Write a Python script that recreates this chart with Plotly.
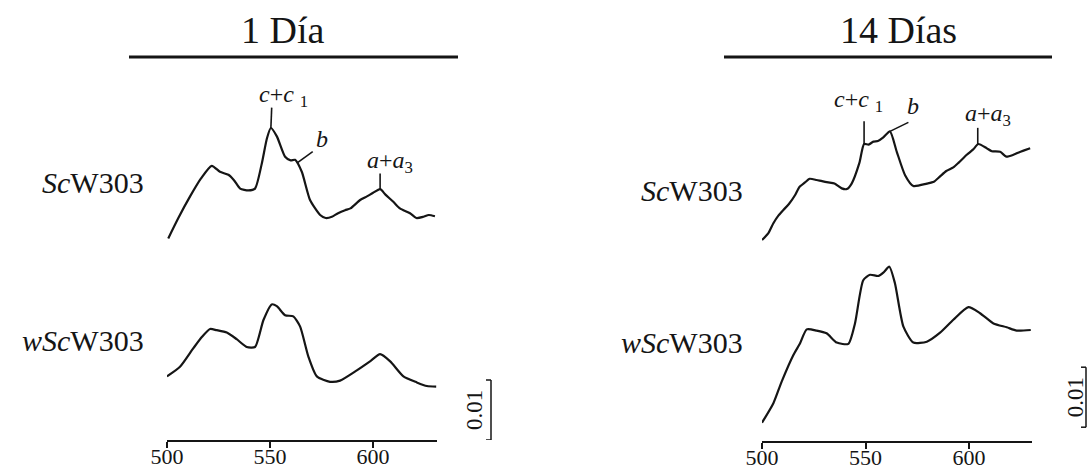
import numpy as np
import plotly.graph_objects as go

# ---------------- data (absorbance in units of 0.001, wavelength in nm) ----------------
wl_sc_1d = [500.6, 505.5, 511.2, 516.5, 521.7, 525.7, 529.8, 532.5, 535.5, 539.5, 542.7, 546.0,
            548.5, 550.4, 553.3, 557.3, 560.0, 562.1, 565.4, 569.4, 574.3, 577.0, 580.0, 583.0,
            586.4, 589.0, 593.7, 597.0, 600.0, 603.4, 606.0, 609.8, 613.0, 617.9, 621.0, 624.4,
            627.0, 630.0]
ab_sc_1d = [33.6, 37.0, 40.6, 43.6, 45.7, 44.7, 44.2, 43.3, 41.9, 41.6, 41.9, 46.1,
            50.3, 52.0, 50.6, 47.2, 46.6, 46.7, 44.7, 40.0, 37.5, 37.0, 37.2, 37.8,
            38.3, 38.6, 40.0, 40.6, 41.2, 41.8, 40.9, 39.7, 38.6, 37.8, 37.0, 37.2,
            37.5, 37.3]

wl_wsc_1d = [500.0, 506.3, 512.8, 517.0, 520.9, 524.1, 529.0, 533.8, 538.7, 542.7, 546.8, 550.8,
             553.3, 557.3, 561.3, 564.6, 568.6, 572.7, 579.1, 584.0, 592.1, 598.5, 603.4, 608.3,
             614.7, 621.2, 626.1, 630.6]
ab_wsc_1d = [10.6, 12.2, 15.3, 17.2, 18.5, 18.3, 17.9, 16.8, 15.5, 15.5, 20.0, 22.6,
             22.3, 20.8, 20.6, 18.9, 13.9, 10.6, 9.7, 9.9, 11.6, 13.1, 14.3, 13.1,
             10.6, 9.6, 9.0, 8.9]

wl_sc_14d = [500.0, 503.0, 505.5, 508.0, 510.3, 513.0, 516.0, 518.0, 520.8, 523.0, 526.4, 529.0,
             532.0, 535.0, 538.5, 541.0, 543.3, 547.0, 549.3, 551.5, 553.8, 556.0, 558.6, 561.8,
             565.1, 569.1, 573.1, 579.6, 583.0, 586.0, 589.0, 592.4, 595.0, 598.9, 602.0, 604.5,
             608.5, 611.0, 615.0, 618.0, 621.4, 624.0, 626.3, 629.5]
ab_sc_14d = [33.5, 34.6, 36.3, 37.6, 38.5, 39.5, 41.0, 42.3, 43.1, 43.7, 43.5, 43.3,
             43.1, 42.9, 42.1, 42.0, 42.9, 46.3, 49.5, 49.4, 49.9, 50.0, 50.6, 51.6,
             48.2, 44.3, 42.5, 42.9, 43.2, 44.1, 45.0, 45.6, 46.4, 47.7, 48.6, 49.5,
             48.8, 48.3, 48.2, 47.4, 47.7, 48.1, 48.4, 48.8]

wl_wsc_14d = [500.0, 505.5, 509.5, 515.1, 518.4, 521.6, 526.4, 531.2, 536.1, 541.7, 544.9, 548.9,
              552.2, 556.2, 558.6, 561.5, 564.2, 568.3, 573.1, 579.6, 586.0, 592.4, 599.7, 605.3,
              611.8, 618.2, 623.0, 629.8]
ab_wsc_14d = [3.05, 6.3, 9.9, 14.3, 16.3, 18.6, 18.4, 17.95, 16.4, 16.2, 19.6, 26.8,
              27.7, 27.5, 28.05, 29.05, 26.3, 19.05, 16.4, 16.55, 18.05, 20.2, 22.3, 21.3,
              19.6, 18.95, 18.4, 18.5]

panel_titles = ["1 Día", "14 Días"]
row_labels = ["<i>Sc</i>W303", "<i>wSc</i>W303"]
tick_vals = [500, 550, 600]
tick_text = ["500", "550", "600"]
scale_label = "0.01"
scale_size = 10  # 0.01 absorbance = 10 units of 0.001
band_labels = ["<i>c</i>+<i>c</i> <sub>1</sub>", "<i>b</i>", "<i>a</i>+<i>a</i><sub>3</sub>"]
band_wl_1d = [550.4, 563.0, 603.4]
band_wl_14d = [549.3, 561.8, 604.2]

# ---------------- layout helpers ----------------
W, H = 1088, 470
FONT = "Liberation Serif"
PX = lambda p: p / W
PY = lambda p: 1 - p / H
INK = "#151515"

fig = go.Figure()
fig.add_trace(go.Scatter(x=wl_sc_1d, y=ab_sc_1d, xaxis="x", yaxis="y"))
fig.add_trace(go.Scatter(x=wl_wsc_1d, y=ab_wsc_1d, xaxis="x", yaxis="y"))
fig.add_trace(go.Scatter(x=wl_sc_14d, y=ab_sc_14d, xaxis="x2", yaxis="y2"))
fig.add_trace(go.Scatter(x=wl_wsc_14d, y=ab_wsc_14d, xaxis="x2", yaxis="y2"))
fig.update_traces(mode="lines", line=dict(color=INK, width=2.2, shape="spline", smoothing=0.6),
                  showlegend=False, hoverinfo="skip")

xcommon = dict(showgrid=False, zeroline=False, showline=True, linecolor=INK, linewidth=2,
               ticks="outside", ticklen=6, tickwidth=2, tickcolor=INK,
               tickvals=tick_vals, ticktext=tick_text, automargin=False,
               ticklabelstandoff=-10,
               tickfont=dict(family=FONT, size=22, color=INK))
ycommon = dict(visible=False, showgrid=False, zeroline=False, fixedrange=True)

fig.update_layout(
    width=W, height=H, margin=dict(l=0, r=0, t=0, b=0),
    paper_bgcolor="white", plot_bgcolor="white",
    xaxis=dict(domain=[PX(167), PX(437)], range=[500, 631], anchor="y", **xcommon),
    yaxis=dict(domain=[30 / H, 1], range=[0, 440 / 6], anchor="x", **ycommon),
    xaxis2=dict(domain=[PX(762), PX(1032)], range=[500, 630.4], anchor="y2", **xcommon),
    yaxis2=dict(domain=[29 / H, 1], range=[0, 441 / 6], anchor="x2", **ycommon),
)

shapes = []
ann = []

# panel titles and rules
for title, (x0, x1), tx in zip(panel_titles, [(129, 458), (724, 1052)], [282.5, 898]):
    shapes.append(dict(type="line", xref="paper", yref="paper", x0=PX(x0), x1=PX(x1),
                       y0=PY(57), y1=PY(57), line=dict(color=INK, width=3)))
    ann.append(dict(text=title, xref="paper", yref="paper", x=PX(tx), y=PY(30),
                    xanchor="center", yanchor="middle", showarrow=False,
                    font=dict(family=FONT, size=38, color=INK)))

# row labels
for (lab, xr, yc) in [(row_labels[0], 146, 182), (row_labels[1], 146, 340),
                      (row_labels[0], 745, 190), (row_labels[1], 745, 342)]:
    ann.append(dict(text=lab, xref="paper", yref="paper", x=PX(xr), y=PY(yc),
                    xanchor="right", yanchor="middle", showarrow=False,
                    font=dict(family=FONT, size=30, color=INK)))

# band markers (tick lines + labels), anchored on the spectra
def band_marks(wls, abs_, band_wl, xr, yr, geo):
    for lab, bw, g in zip(band_labels, band_wl, geo):
        y0 = float(np.interp(bw, wls, abs_))
        dx, dy, tx, ty = g
        shapes.append(dict(type="line", xref=xr, yref=yr, x0=bw, y0=y0, x1=bw + dx, y1=y0 + dy,
                           line=dict(color=INK, width=1.6)))
        ann.append(dict(text=lab, xref=xr, yref=yr, x=bw + tx, y=y0 + ty,
                        xanchor="center", yanchor="middle", showarrow=False,
                        font=dict(family=FONT, size=24, color=INK)))

band_marks(wl_sc_1d, ab_sc_1d, band_wl_1d, "x", "y",
           [(0.4, 3.4, 6.0, 5.4), (7.7, 1.9, 12.1, 4.0), (0, 2.6, 4.8, 4.5)])
band_marks(wl_sc_14d, ab_sc_14d, band_wl_14d, "x2", "y2",
           [(0, 3.8, -2.9, 7.2), (8.9, 1.5, 11.1, 4.2), (0, 2.8, 5.0, 5.0)])

# scale bars (0.01 absorbance)
for yr, xb, ybot, xlab in [("y", 491, 0, 474), ("y2", 1086, 2.3, 1075)]:
    shapes.append(dict(type="line", xref="paper", yref=yr, x0=PX(xb), x1=PX(xb),
                       y0=ybot, y1=ybot + scale_size, line=dict(color=INK, width=1.5)))
    for yy in (ybot, ybot + scale_size):
        shapes.append(dict(type="line", xref="paper", yref=yr, x0=PX(xb - 5), x1=PX(xb),
                           y0=yy, y1=yy, line=dict(color=INK, width=1.5)))
    ann.append(dict(text=scale_label, xref="paper", yref=yr, x=PX(xlab), y=ybot + scale_size / 2,
                    xanchor="center", yanchor="middle", textangle=-90, showarrow=False,
                    font=dict(family=FONT, size=23, color=INK)))

fig.update_layout(shapes=shapes, annotations=ann)
fig.write_html("out.html", config={"displayModeBar": False},
               post_script="document.body.style.margin='0px';document.body.style.overflow='hidden';")
